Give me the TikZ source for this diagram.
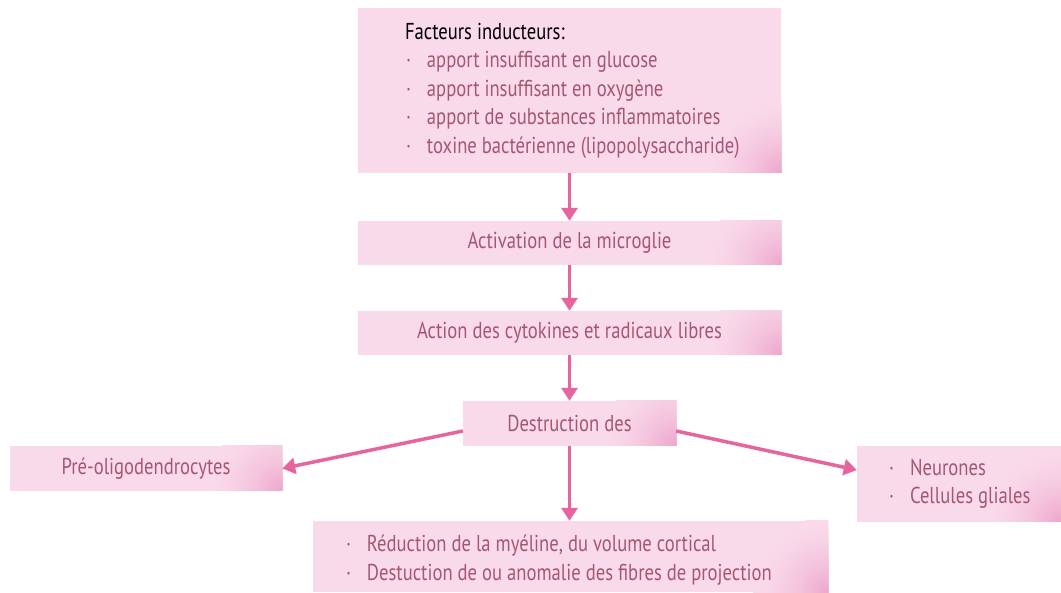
\documentclass[tikz,border=0pt]{standalone}
\usepackage{fontspec}
\setmainfont[FakeStretch=0.81]{PT Sans}
\usetikzlibrary{arrows.meta}
\definecolor{boxfill}{HTML}{F9DAEA}
\definecolor{boxdeep}{HTML}{EEA8CD}
\definecolor{txt}{HTML}{A4586F}
\definecolor{arr}{HTML}{E8649F}
\newcommand\bitem[1]{\makebox[22pt][l]{\hspace{1pt}\textperiodcentered}#1}
\newcommand\blockleft[2]{\makebox[#1][l]{\begin{tabular}{@{}l@{}}#2\end{tabular}}}
\begin{document}
\begin{tikzpicture}[x=1pt,y=-1pt,
 box/.style={fill=boxfill, inner sep=0pt, text=txt, font=\fontsize{23}{28.5}\selectfont,
   path picture={\foreach \k in {0,...,29}{%
      \pgfmathsetmacro\rr{75*(1-\k/30)}%
      \pgfmathsetmacro\pp{100*(\k/29)^1.6}%
      \fill[boxdeep!\pp!boxfill] (path picture bounding box.south east) circle (\rr pt);}}},
 link/.style={draw=arr, line width=3.5pt, -{Triangle[length=13pt,width=16pt]}}]
\useasboundingbox (0,0) rectangle (1061,593);
\fill[white] (0,0) rectangle (1061,593);
\node[box, minimum width=423pt, minimum height=165pt] (f) at (569.5,90.5)
 {\blockleft{329pt}{{\color{black}Facteurs inducteurs:}\\
  \bitem{apport insuffisant en glucose}\\
  \bitem{apport insuffisant en oxygène}\\
  \bitem{apport de substances inflammatoires}\\
  \bitem{toxine bactérienne (lipopolysaccharide)}}};
\node[box, minimum width=423pt, minimum height=44pt] (a) at (569.5,243) {Activation de la microglie};
\node[box, minimum width=423pt, minimum height=44pt] (c) at (569.5,333) {Action des cytokines et radicaux libres};
\node[box, minimum width=213pt, minimum height=45pt] (d) at (569.5,423.5) {Destruction des};
\node[box, minimum width=272pt, minimum height=45pt] (p) at (146,468.5) {Pré-oligodendrocytes};
\node[box, minimum width=204pt, minimum height=76pt] (r) at (959,484)
 {\blockleft{142pt}{\bitem{Neurones}\\ \bitem{Cellules gliales}}};
\node[box, minimum width=515pt, minimum height=71pt] (b) at (570.5,556.5)
 {\raisebox{-4pt}[\height][\depth]{\blockleft{451pt}{\bitem{Réduction de la myéline, du volume cortical}\\
  \bitem{Destuction de ou anomalie des fibres de projection}}}};
\draw[link] (f) -- (a);
\draw[link] (a) -- (c);
\draw[link] (c) -- (d);
\draw[link] ([yshift=-7.5pt]d.west) -- (p.east);
\draw[link] ([yshift=-7.5pt]d.east) -- ([yshift=14pt]r.west);
\draw[link] (d.south) -- (d.south |- b.north);
\end{tikzpicture}
\end{document}
